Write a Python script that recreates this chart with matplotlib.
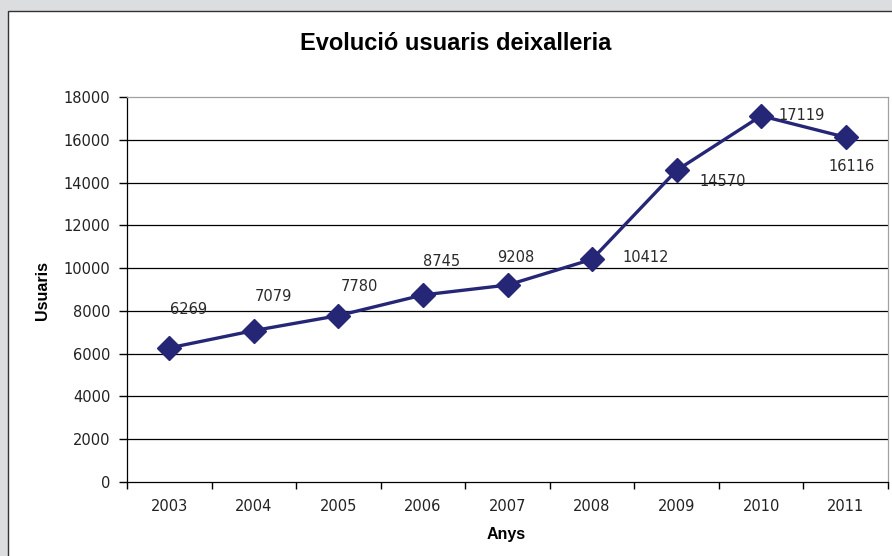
import matplotlib
matplotlib.use("Agg")
import matplotlib.pyplot as plt
from matplotlib.patches import Rectangle
import numpy as np

plt.rcParams['font.family'] = ['Liberation Sans', 'DejaVu Sans']

years = ['2003', '2004', '2005', '2006', '2007', '2008', '2009', '2010', '2011']
users = [6269, 7079, 7780, 8745, 9208, 10412, 14570, 17119, 16116]
yticks = [0, 2000, 4000, 6000, 8000, 10000, 12000, 14000, 16000, 18000]
title = 'Evolució usuaris deixalleria'
xlabel = 'Anys'
ylabel = 'Usuaris'
# label offsets in pixels (style)
label_offsets = [(19, 38), (20, 34), (21, 29), (19, 33), (8, 28), (54, 2), (46, -11), (40, 0), (6, -29)]

num_font = 'DejaVu Sans'

fig = plt.figure(figsize=(8.92, 5.56), dpi=100)
fig.patch.set_facecolor('#DCDDDF')
W, H = 892, 556
bg = Rectangle((8 / W, -0.1), 1, 1.1 - 11 / H, transform=fig.transFigure,
               facecolor='white', edgecolor='#333333', linewidth=1.0, zorder=-10)
fig.patches.append(bg)

ax = fig.add_axes([127 / W, (H - 482) / H, (888 - 127) / W, (482 - 97) / H])
ax.set_zorder(5)
ax.set_facecolor('white')
x = np.arange(len(years))
ax.plot(x, users, color='#262677', linewidth=2.4, marker='D', markersize=12,
        markerfacecolor='#262677', markeredgecolor='#262677', zorder=3, clip_on=False)

for xi, v, (dx, dy) in zip(x, users, label_offsets):
    ax.annotate(str(v), (xi, v), xytext=(dx * 0.72, dy * 0.72), textcoords='offset points',
                ha='center', va='center', fontsize=10.5, color='#2a2a2a', family=num_font)

ax.set_xlim(-0.5, len(years) - 0.5)
ax.set_ylim(0, 18000)
ax.set_yticks(yticks)
ax.set_yticklabels([str(t) for t in yticks], fontsize=10.5, family=num_font, color='#222222')
ax.set_xticks(x)
ax.set_xticklabels(years, fontsize=10.5, family=num_font, color='#222222')
ax.set_xticks(np.arange(-0.5, len(years)), minor=True)
ax.tick_params(axis='x', which='major', length=0, pad=12)
ax.tick_params(axis='x', which='minor', length=5, width=1, color='black', direction='out')
ax.tick_params(axis='y', length=6, width=1, color='black', direction='out', pad=6)

for t in yticks[1:-1]:
    ax.axhline(t, color='black', linewidth=0.9, zorder=1)

for s in ['top', 'right']:
    ax.spines[s].set_color('#A0A0A0')
    ax.spines[s].set_linewidth(0.9)
for s in ['left', 'bottom']:
    ax.spines[s].set_color('black')
    ax.spines[s].set_linewidth(0.9)

fig.text(456 / W, 1 - 43 / H, title, ha='center', va='center', fontsize=17, fontweight='bold')
fig.text(506 / W, 1 - 535 / H, xlabel, ha='center', va='center', fontsize=11.5, fontweight='bold')
fig.text(42 / W, 1 - 290 / H, ylabel, ha='center', va='center', fontsize=11.5, fontweight='bold', rotation=90)

fig.savefig('out.png', dpi=100, facecolor=fig.get_facecolor())
